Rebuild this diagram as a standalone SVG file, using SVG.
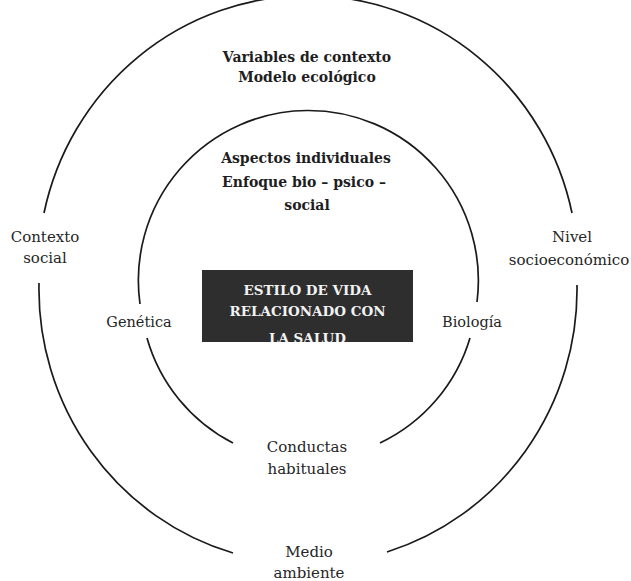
<svg xmlns="http://www.w3.org/2000/svg" width="631" height="581" viewBox="0 0 631 581">
<style>
  .ring { fill: none; stroke: #1a1a1a; stroke-width: 1.7; }
  .t { font-family: "DejaVu Serif", "Liberation Serif", serif; fill: #262626; text-anchor: middle; font-size: 15px; }
  .b { font-weight: bold; font-size: 14px; fill: #1e1e1e; }
  .box { fill: #2e2e2e; }
  .bt { font-family: "DejaVu Serif", "Liberation Serif", serif; fill: #f2f2f2; text-anchor: middle; font-size: 13.5px; font-weight: bold; }
</style>
<defs>
  <clipPath id="boxclip"><rect x="202" y="270" width="211" height="72"/></clipPath>
</defs>
<rect width="631" height="581" fill="#ffffff"/>
<g id="connectors">
  <path class="ring" d="M 44 213 A 270 275 0 0 1 572 213"/>
  <path class="ring" d="M 577 285 A 270 275 0 0 1 387 552"/>
  <path class="ring" d="M 233 553 A 270 275 0 0 1 39 283"/>
  <path class="ring" d="M 140 304 A 170 170 0 1 1 477 302"/>
  <path class="ring" d="M 470 338 A 170 170 0 0 1 380 443"/>
  <path class="ring" d="M 233 443 A 170 170 0 0 1 147 338"/>
</g>
<g id="contexto-variables">
  <text class="t b" x="307" y="62">Variables de contexto</text>
  <text class="t b" x="307" y="82">Modelo ecológico</text>
</g>
<g id="aspectos-individuales">
  <text class="t b" x="306" y="163">Aspectos individuales</text>
  <text class="t b" x="304" y="187">Enfoque bio – psico –</text>
  <text class="t b" x="307" y="210">social</text>
</g>
<g id="estilo-de-vida">
  <rect class="box" x="202" y="270" width="211" height="72"/>
  <g clip-path="url(#boxclip)">
    <text class="bt" x="307.5" y="295">ESTILO DE VIDA</text>
    <text class="bt" x="307.5" y="316">RELACIONADO CON</text>
    <text class="bt" x="307.5" y="343">LA SALUD</text>
  </g>
</g>
<g id="contexto-social">
  <text class="t" x="45" y="242">Contexto</text>
  <text class="t" x="45" y="263">social</text>
</g>
<g id="nivel-socioeconomico">
  <text class="t" x="572" y="242">Nivel</text>
  <text class="t" x="569" y="265">socioeconómico</text>
</g>
<g id="genetica">
  <text class="t" x="139" y="327" style="font-size:14.5px">Genética</text>
</g>
<g id="biologia">
  <text class="t" x="472" y="327" style="font-size:14.5px">Biología</text>
</g>
<g id="conductas-habituales">
  <text class="t" x="307" y="452">Conductas</text>
  <text class="t" x="307" y="474">habituales</text>
</g>
<g id="medio-ambiente">
  <text class="t" x="309" y="557">Medio</text>
  <text class="t" x="309" y="578">ambiente</text>
</g>
</svg>
